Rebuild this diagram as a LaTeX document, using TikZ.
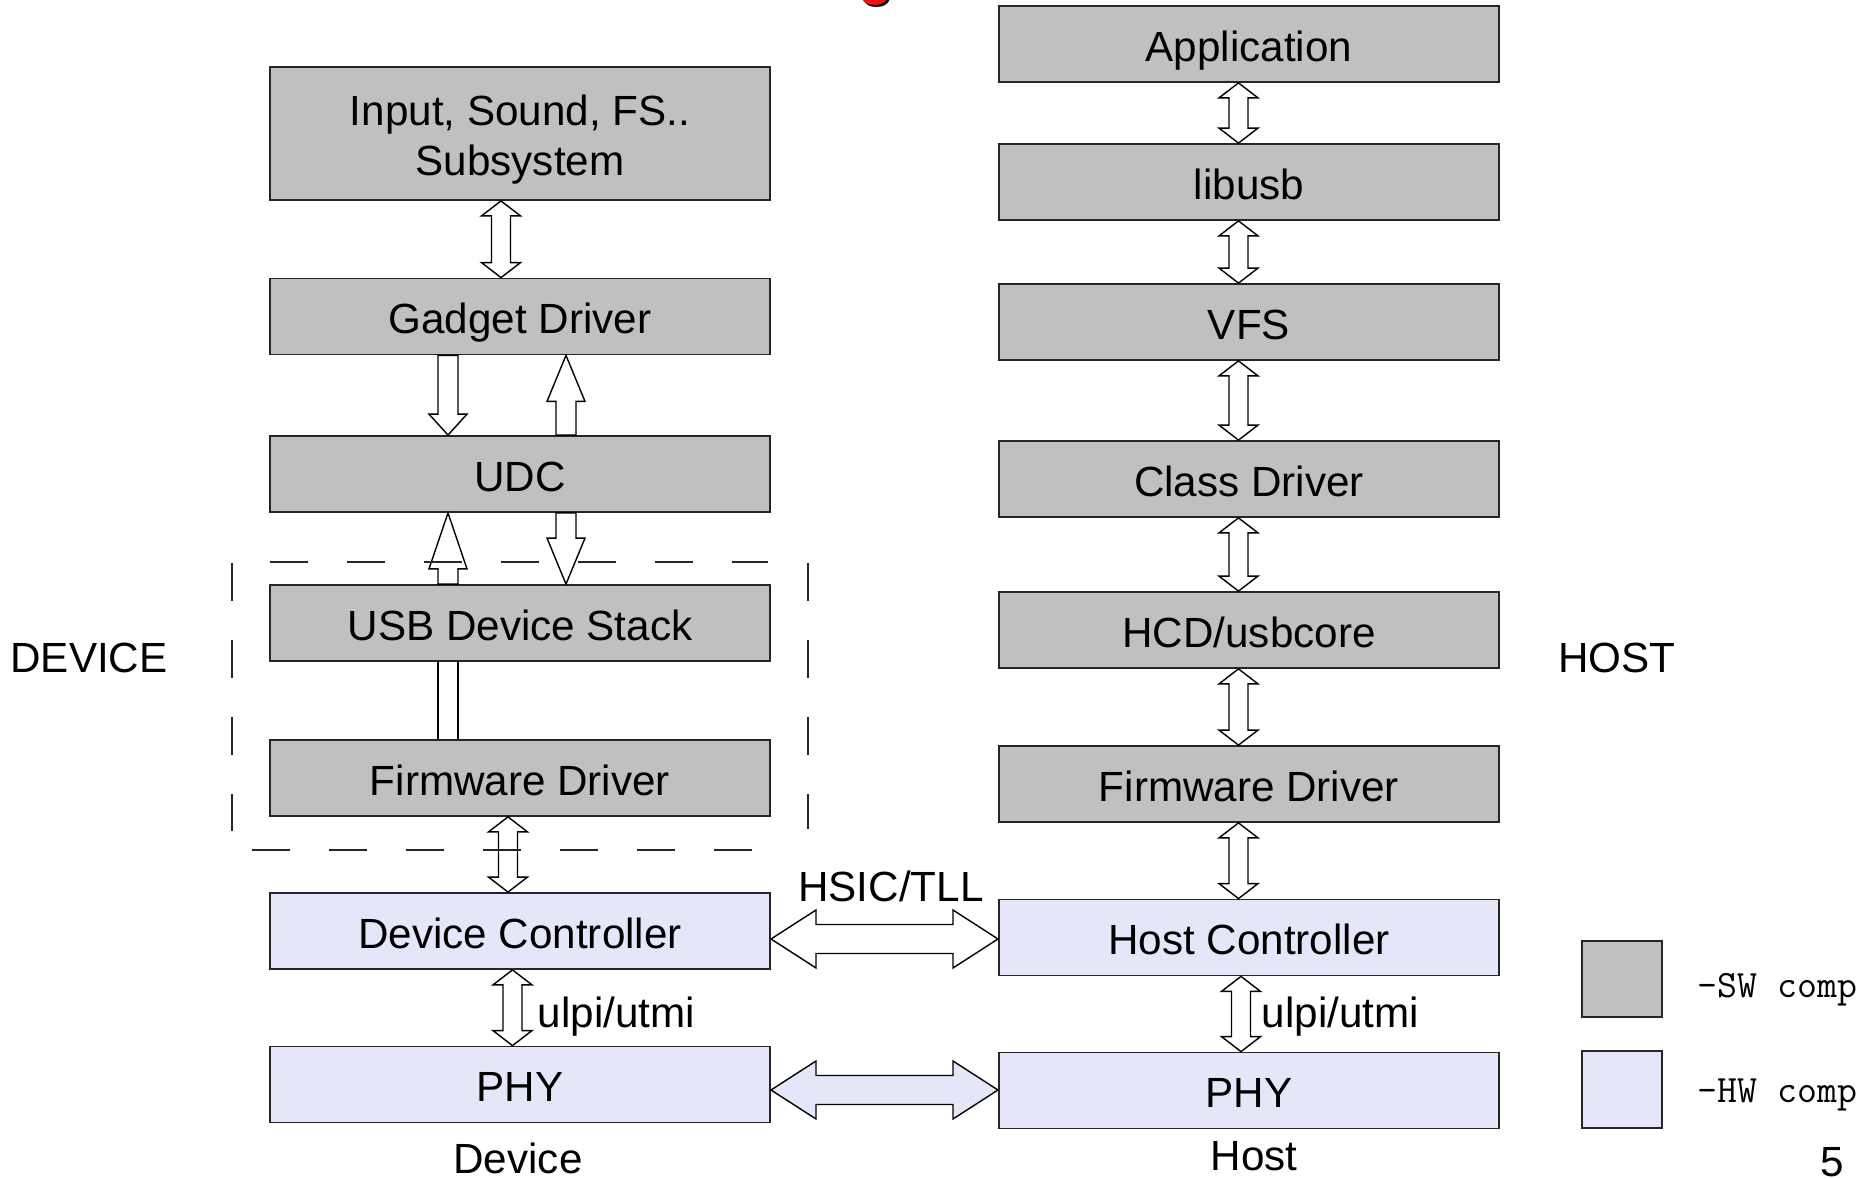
\documentclass[tikz,border=0pt]{standalone}
\usepackage{fontspec}
\setmainfont{Liberation Sans}
\usetikzlibrary{calc}
\definecolor{swgray}{RGB}{192,192,192}
\definecolor{hwlav}{RGB}{230,230,250}
\definecolor{titlered}{RGB}{235,20,20}
% vertical double arrow between two named points (top tip, bottom tip)
\newcommand\vdarrow[3][white]{%
  \draw[arr, fill=#1] (#2) -- ++(19.5,15) -- ++(-10,0) -- ($(#3)+(9.5,-15)$) -- ++(10,0) -- (#3)
    -- ++(-19.5,-15) -- ++(10,0) -- ($(#2)+(-9.5,15)$) -- ++(-10,0) -- cycle;}
% horizontal double arrow between two named points (left tip, right tip)
\newcommand\hdarrow[3][white]{%
  \draw[arr, fill=#1] (#2) -- ++(45,-29) -- ++(0,14.5) -- ($(#3)+(-45,-14.5)$) -- ++(0,-14.5) -- (#3)
    -- ++(-45,29) -- ++(0,-14.5) -- ($(#2)+(45,14.5)$) -- ++(0,14.5) -- cycle;}
% single downward arrow: #1 shaft top, #2 tip, #3 head length
\newcommand\sdarrow[3]{%
  \draw[arr] ($(#1)+(-10,0)$) -- ($(#2)+(-10,-#3)$) -- ++(-9,0) -- (#2) -- ++(19,-#3) -- ++(-9,0)
    -- ($(#1)+(10,0)$) -- cycle;}
% single upward arrow: #1 shaft bottom, #2 tip, #3 head length
\newcommand\suarrow[3]{%
  \draw[arr] ($(#1)+(-10,0)$) -- ($(#2)+(-10,#3)$) -- ++(-9,0) -- (#2) -- ++(19,#3) -- ++(-9,0)
    -- ($(#1)+(10,0)$) -- cycle;}
\begin{document}
\begin{tikzpicture}[x=0.01cm,y=-0.01cm,
  sw/.style={draw=black!85, line width=0.5pt, fill=swgray, minimum width=5cm,
    minimum height=0.76cm, inner sep=0pt, text height=12pt, text depth=2.06pt,
    font=\fontsize{12}{14.2}\selectfont},
  hw/.style={sw, fill=hwlav},
  arr/.style={draw=black, line width=0.4pt, fill=white, line join=miter},
  lbl/.style={inner sep=0pt, font=\fontsize{12}{14.2}\selectfont},
  leg/.style={inner sep=0pt, font=\ttfamily\fontsize{11}{13}\selectfont},
  dsh/.style={draw=black!85, line width=0.45pt, dash pattern=on 0.38cm off 0.39cm}]
\useasboundingbox (0,0) rectangle (1868,1179);

% cropped title fragment
\begin{scope}
  \clip (0,0) rectangle (1868,1179);
  \node[inner sep=0pt, anchor=base, text=black, font=\bfseries\fontsize{16}{19}\selectfont] (ttlshadow) at (878,-4.8) {g};
  \node[inner sep=0pt, anchor=base, text=titlered, font=\bfseries\fontsize{16}{19}\selectfont] (ttl) at (876,-6.8) {g};
\end{scope}

% device column
\node[sw, minimum height=1.33cm] (inp) at (520,133.5) {};
\node[lbl, align=center] (inptxt) at (520,139.5) {Input, Sound, FS..\\Subsystem};
\node[sw] (gad) at (520,316.5) {Gadget Driver};
\node[sw] (udc) at (520,474) {UDC};
\node[sw] (uds) at (520,623) {USB Device Stack};
\node[sw] (lfw) at (520,778) {Firmware Driver};
\node[hw] (dc) at (520,931) {Device Controller};
\node[hw] (lphy) at (520,1084.5) {PHY};

% host column
\node[sw] (app) at (1249,44) {Application};
\node[sw] (lib) at (1249,182) {libusb};
\node[sw] (vfs) at (1249,322) {VFS};
\node[sw] (cls) at (1249,479) {Class Driver};
\node[sw] (hcd) at (1249,630) {HCD/usbcore};
\node[sw] (rfw) at (1249,784) {Firmware Driver};
\node[hw] (hc) at (1249,937.5) {Host Controller};
\node[hw] (rphy) at (1249,1090.5) {PHY};

% legend
\node[sw, minimum width=0.8cm, minimum height=0.76cm] (swl) at (1622,979) {};
\node[hw, minimum width=0.8cm, minimum height=0.77cm] (hwl) at (1622,1089.5) {};
\node[leg, anchor=base west] (swt) at (1697,997.5) {-SW comp};
\node[leg, anchor=base west] (hwt) at (1697,1103) {-HW comp};

% labels
\node[lbl] (devlbl) at (89,658) {DEVICE};
\node[lbl] (hostlbl) at (1617,658) {HOST};
\node[lbl, anchor=base] (devcap) at (518,1173) {Device};
\node[lbl, anchor=base] (hostcap) at (1254,1170) {Host};
\node[lbl, anchor=base] (hsic) at (891,902) {HSIC/TLL};
\node[lbl, anchor=base west] (ulpil) at (537,1027.5) {ulpi/utmi};
\node[lbl, anchor=base west] (ulpir) at (1261,1027.5) {ulpi/utmi};
\node[lbl, anchor=base] (pg) at (1832,1176) {5};

% arrow end points, host column
\foreach \a/\b/\n in {app/lib/1, lib/vfs/2, vfs/cls/3, cls/hcd/4, hcd/rfw/5, rfw/hc/6}{
  \coordinate (r\n t) at ($(\a.south)+(-10.5,0)$);
  \coordinate (r\n b) at ($(\b.north)+(-10.5,0)$);
}
\coordinate (r7t) at ($(hc.south)+(-8,0)$);
\coordinate (r7b) at ($(rphy.north)+(-8,0)$);
\foreach \n in {1,...,7}{ \vdarrow{r\n t}{r\n b} }

% arrow end points, device column
\coordinate (l1t) at ($(inp.south)+(-19,0)$);
\coordinate (l1b) at ($(gad.north)+(-19,0)$);
\coordinate (l2t) at ($(lfw.south)+(-12,0)$);
\coordinate (l2b) at ($(dc.north)+(-12,0)$);
\coordinate (l3t) at ($(dc.south)+(-7.5,0)$);
\coordinate (l3b) at ($(lphy.north)+(-7.5,0)$);
\vdarrow{l1t}{l1b}
\vdarrow{l2t}{l2b}
\vdarrow{l3t}{l3b}

% single arrows around UDC
\coordinate (g1) at ($(gad.south)+(-72,0)$);
\coordinate (u1) at ($(udc.north)+(-72,0)$);
\coordinate (g2) at ($(gad.south)+(46,0)$);
\coordinate (u2) at ($(udc.north)+(46,0)$);
\coordinate (u3) at ($(udc.south)+(-72,0)$);
\coordinate (s3) at ($(uds.north)+(-72,0)$);
\coordinate (u4) at ($(udc.south)+(46,0)$);
\coordinate (s4) at ($(uds.north)+(46,0)$);
\sdarrow{g1}{u1}{21}
\suarrow{u2}{g2}{46}
\suarrow{s3}{u3}{56}
\sdarrow{u4}{s4}{46}
% shaft between USB Device Stack and Firmware Driver
\draw[arr] ($(uds.south)+(-82,0)$) -- ($(lfw.north)+(-82,0)$);
\draw[arr] ($(uds.south)+(-62,0)$) -- ($(lfw.north)+(-62,0)$);

% horizontal arrows
\coordinate (h1l) at ($(dc.east)+(0,8)$);
\coordinate (h1r) at ($(hc.west)+(0,1.5)$);
\hdarrow{h1l}{h1r}
\coordinate (h2l) at ($(lphy.east)+(0,5.5)$);
\coordinate (h2r) at ($(rphy.west)+(0,-0.5)$);
\hdarrow[hwlav]{h2l}{h2r}

% dashed group outline (four separate sides)
\draw[dsh] (270,562) -- (768,562);
\draw[dsh] (232,563) -- (232,831);
\draw[dsh] (808,563) -- (808,829);
\draw[dsh] (252,850) -- (791,850);
\end{tikzpicture}
\end{document}
